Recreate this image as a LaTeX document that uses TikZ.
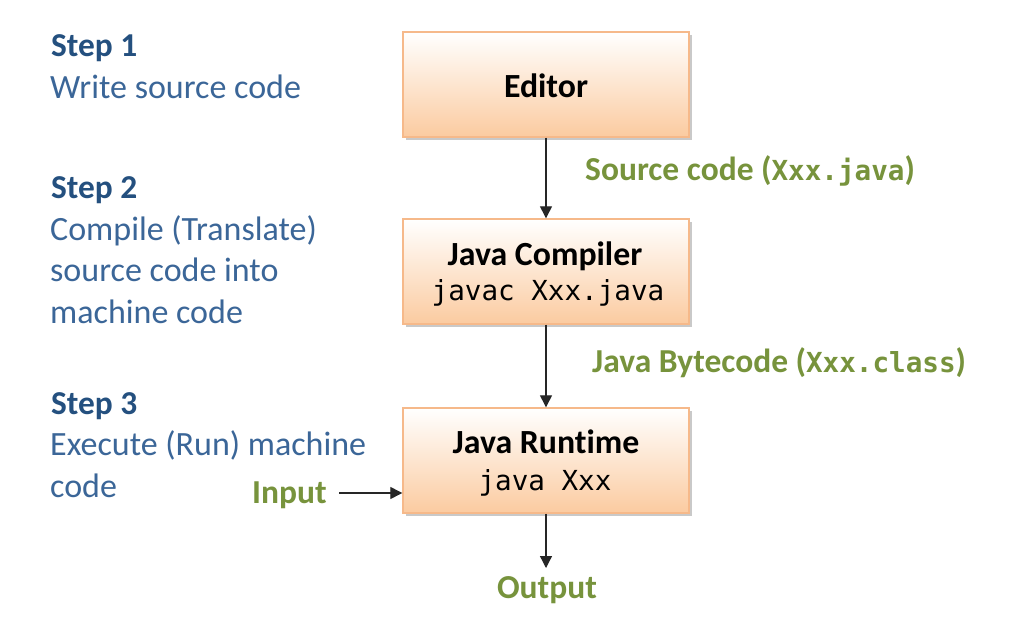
\documentclass[tikz,border=0pt]{standalone}
\usepackage{fontspec}
\setmainfont{Carlito}[Ligatures={NoCommon}]
\setmonofont{DejaVu Sans Mono}
\usetikzlibrary{arrows.meta,shadows}
\definecolor{stephead}{HTML}{24507F}
\definecolor{steptext}{HTML}{3B6698}
\definecolor{lblgreen}{HTML}{77933C}
\definecolor{boxedge}{HTML}{F6B98A}
\definecolor{boxbot}{HTML}{FBCBA0}
\newcommand{\lblcode}[1]{{\fontsize{27.6}{32}\selectfont\ttfamily\bfseries #1}}
\tikzset{
  stepbox/.style={draw=boxedge, line width=1.4pt, top color=white, bottom color=boxbot,
    minimum width=286pt, minimum height=105pt, inner sep=0pt,
    drop shadow={shadow xshift=3pt, shadow yshift=-3pt, fill=black!35, opacity=0.6}},
  boxtitle/.style={anchor=base, inner sep=0pt, font=\fontsize{33.8}{40}\selectfont\bfseries},
  boxcode/.style={anchor=base, inner sep=0pt, font=\fontsize{27.6}{32}\selectfont\ttfamily},
  head/.style={anchor=base west, inner sep=0pt, text=stephead, font=\fontsize{33.4}{40}\selectfont\bfseries},
  body/.style={anchor=base west, inner sep=0pt, text=steptext, font=\fontsize{34}{40}\selectfont},
  lbl/.style={anchor=base west, inner sep=0pt, text=lblgreen, font=\fontsize{33.5}{40}\selectfont\bfseries},
  conn/.style={draw=black!85, line width=1.3pt, -{Triangle[length=12pt,width=12pt]}},
}
\begin{document}
\begin{tikzpicture}[x=1pt,y=-1pt]
\useasboundingbox[fill=white] (0,0) rectangle (1020,640);
% boxes
\node[stepbox] (editor) at (546,84.5) {};
\node[stepbox] (compiler) at (546,271.5) {};
\node[stepbox] (runtime) at (546,460.5) {};
\node[boxtitle] (editorT) at (546,97) {Editor};
\node[boxtitle] (compT) at (545,265) {Java Compiler};
\node[boxcode] (compC) at (548,300) {javac Xxx.java};
\node[boxtitle] (runT) at (546,453) {Java Runtime};
\node[boxcode] (runC) at (545,490) {java Xxx};
% left steps
\node[head] (s1) at (51,56) {Step 1};
\node[body] (s1a) at (50,98) {Write source code};
\node[head] (s2) at (51,198) {Step 2};
\node[body] (s2a) at (50,240) {Compile (Translate)};
\node[body] (s2b) at (50,281.5) {source code into};
\node[body] (s2c) at (50,323) {machine code};
\node[head] (s3) at (51,414) {Step 3};
\node[body] (s3a) at (50,455.5) {Execute (Run) machine};
\node[body] (s3b) at (50,497) {code};
% labels
\node[lbl] (l1) at (585,180) {Source code (\lblcode{Xxx.java})};
\node[lbl] (l2) at (592,372) {Java Bytecode (\lblcode{Xxx.class})};
\node[lbl] (inp) at (252,503) {Input};
\node[lbl, anchor=base] (out) at (547,598) {Output};
\coordinate (outtip) at (546,568);
\coordinate (inpstart) at (339,493);
% connectors
\draw[conn] (editor.south) -- (compiler.north);
\draw[conn] (compiler.south) -- (runtime.north);
\draw[conn] (runtime.south) -- (outtip);
\draw[conn] (inpstart) -- (inpstart -| runtime.west);
\end{tikzpicture}
\end{document}
